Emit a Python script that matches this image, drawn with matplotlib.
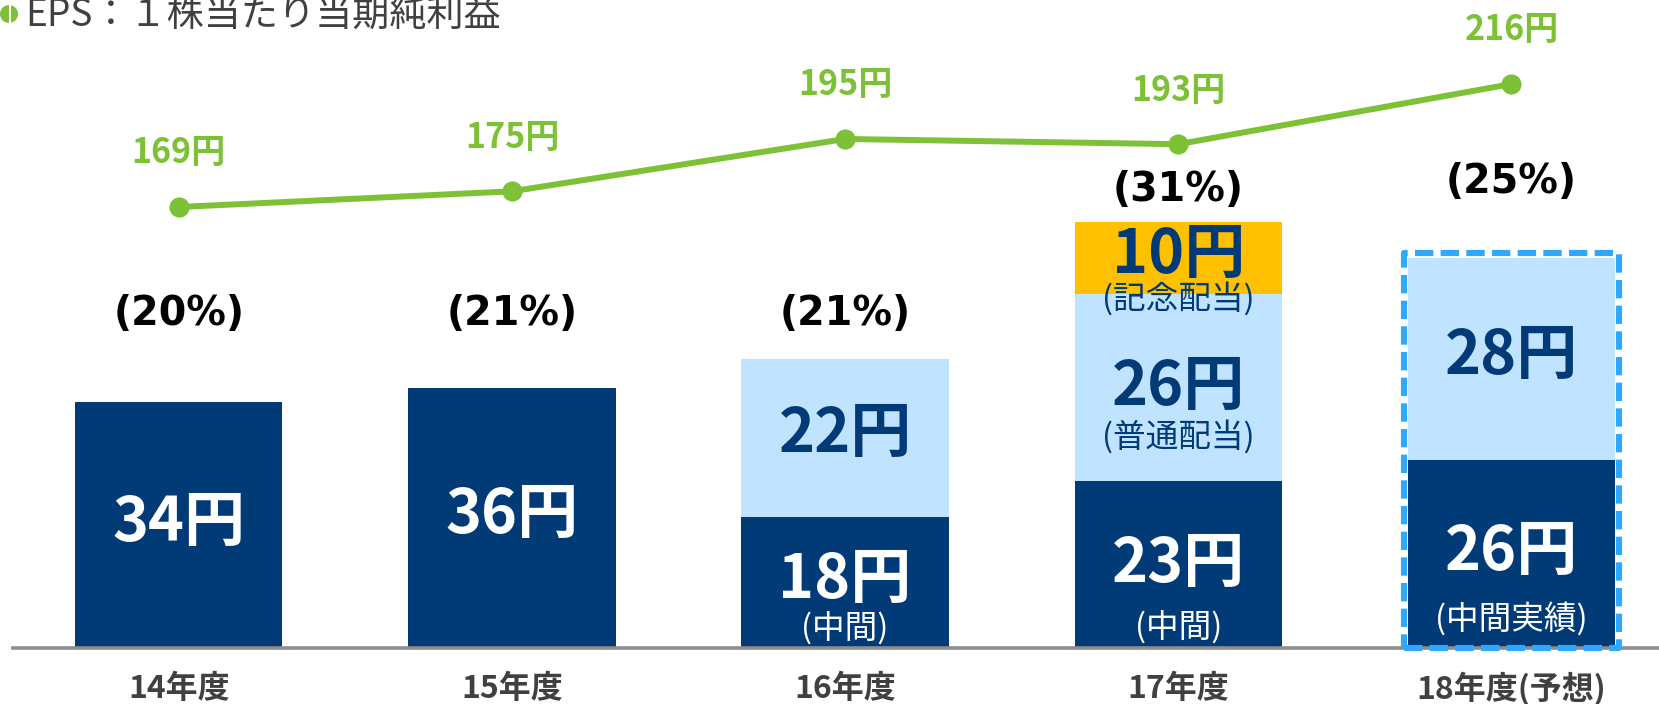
import matplotlib
matplotlib.use('Agg')
import matplotlib.pyplot as plt
from matplotlib.patches import Rectangle, Ellipse

# ---------------- data ----------------
years = ['14年度', '15年度', '16年度', '17年度', '18年度(予想)']
interim = [34, 36, 18, 23, 26]          # dark segment (annual for 14/15)
ordinary = [0, 0, 22, 26, 28]           # light-blue segment
commemorative = [0, 0, 0, 10, 0]        # gold segment
payout = [20, 21, 21, 31, 25]           # payout ratio (%)
eps = [169, 175, 195, 193, 216]         # EPS (yen)
interim_notes = ['', '', '(中間)', '(中間)', '(中間実績)']
ordinary_notes = ['', '', '', '(普通配当)', '']
commem_notes = ['', '', '', '(記念配当)', '']
legend_label = 'EPS：１株当たり当期純利益'

# ---------------- layout / style ----------------
W, H, DPI = 1659, 704, 100
NAVY = '#003A77'
LIGHT = '#C0E4FF'
GOLD = '#FFC000'
GREEN = '#7DC136'
GRAY = '#404040'
BOX = '#2FA9FF'
JP = 'Noto Sans CJK JP'
BAR_W = 0.6225

# label offsets (points) relative to segment centre
main_dy_dark = [1, 1.4, 1.4, 0, 1]
sub_dy_dark = [0, 0, -33, -45.5, -47]
main_dy_light = [0, 0, 3, 0.7, 1.7]
sub_dy_light = [0, 0, 0, -35, 0]
main_dy_gold = [0, 0, 0, 2, 0]
sub_dy_gold = [0, 0, 0, -29.5, 0]
pct_y = [46.25, 46.25, 46.25, 63.5, 64.6]

fig = plt.figure(figsize=(W / DPI, H / DPI), dpi=DPI)
ax = fig.add_axes([0, 0, 1, 1])
ax.set_xlim(-0.5367, 4.443)
ax.set_ylim(-7.92, 89.86)
ax.axis('off')

x = list(range(len(years)))
bottom2 = [a for a in interim]
bottom3 = [a + b for a, b in zip(interim, ordinary)]

ax.bar(x, interim, width=BAR_W, color=NAVY, zorder=2, linewidth=0)
ax.bar(x, ordinary, bottom=bottom2, width=BAR_W, color=LIGHT, zorder=2, linewidth=0)
ax.bar(x, commemorative, bottom=bottom3, width=BAR_W, color=GOLD, zorder=2, linewidth=0)

# baseline
ax.axhline(-0.14, xmin=13 / W, xmax=1, color='#8C8C8C', lw=2.6, zorder=3)

def seg_label(xi, yc, val, note, color, dy_main, dy_sub):
    ax.annotate(f'{val}円', (xi, yc), xytext=(0, dy_main), textcoords='offset points',
                ha='center', va='center', fontsize=44, fontweight='bold',
                color=color, family=JP, zorder=5)
    if note:
        ax.annotate(note, (xi, yc), xytext=(0, dy_sub), textcoords='offset points',
                    ha='center', va='center', fontsize=23.5, color=color,
                    family=JP, zorder=5)

for i in x:
    if interim[i]:
        seg_label(i, interim[i] / 2, interim[i], interim_notes[i], 'white',
                  main_dy_dark[i], sub_dy_dark[i])
    if ordinary[i]:
        seg_label(i, bottom2[i] + ordinary[i] / 2, ordinary[i], ordinary_notes[i], NAVY,
                  main_dy_light[i], sub_dy_light[i])
    if commemorative[i]:
        seg_label(i, bottom3[i] + commemorative[i] / 2, commemorative[i], commem_notes[i], NAVY,
                  main_dy_gold[i], sub_dy_gold[i])
    ax.text(i, pct_y[i], f'({payout[i]}%)', ha='center', va='center', fontsize=28.5,
            fontweight='bold', color='black', family=['DejaVu Sans', JP], zorder=5)
    ax.text(i, -5.8, years[i], ha='center', va='center', fontsize=23,
            fontweight='bold', color=GRAY, family=JP)

# dashed forecast box around last bar
last = len(years) - 1
top_last = interim[last] + ordinary[last] + commemorative[last]
pad_x = 0.012
rect = Rectangle((last - BAR_W / 2 - pad_x, -0.15), BAR_W + 2 * pad_x, top_last + 0.85,
                 fill=False, edgecolor=BOX, lw=4.4, linestyle=(0, (3.0, 1.2)),
                 zorder=4, joinstyle='round')
ax.add_patch(rect)

# EPS line on its own scale
ax2 = fig.add_axes([0, 0, 1, 1], sharex=ax)
ax2.set_ylim(-20.9, 248.1)
ax2.axis('off')
ax2.patch.set_alpha(0)
ax2.plot(x, eps, color=GREEN, lw=4.3, marker='o', markersize=13.5, zorder=3,
         solid_capstyle='butt')
for i in x:
    ax2.annotate(f'{eps[i]}円', (i, eps[i]), xytext=(0, 39), textcoords='offset points',
                 ha='center', va='center', fontsize=24.5, fontweight='bold',
                 color=GREEN, family=JP)

# legend label at top-left
fig.text(25 / W, 1 - 15 / H, legend_label, ha='left', va='center', fontsize=26.7,
         color=GRAY, family=JP)
fig.patches.append(Ellipse((9 / W, 1 - 14 / H), 18 / W, 18 / H, transform=fig.transFigure,
                           facecolor=GREEN, edgecolor='none', figure=fig))
fig.lines.append(plt.Line2D([9.5 / W, 9.5 / W], [1 - 5 / H, 1 - 23 / H],
                            transform=fig.transFigure, color='white', lw=1.5, figure=fig))

fig.savefig('out.png', dpi=DPI)
